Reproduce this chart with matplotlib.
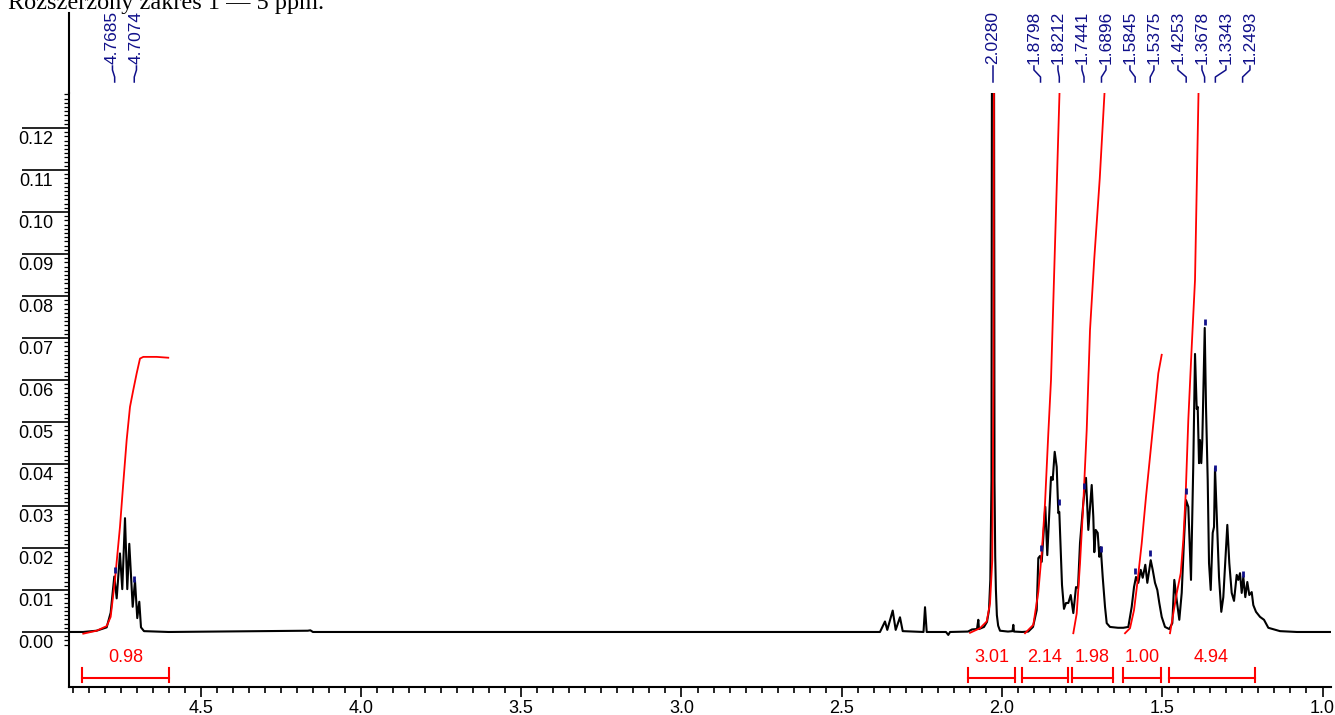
import matplotlib
matplotlib.use('Agg')
import matplotlib.pyplot as plt
import matplotlib.transforms as mtransforms
from matplotlib.ticker import FixedLocator, FormatStrFormatter
import numpy as np

# Widmo 1H: przesunięcie [ppm] i intensywność
spec_ppm = [4.911, 4.867, 4.825, 4.7935, 4.781, 4.7697, 4.7622, 4.752, 4.7448, 4.7363,
            4.7292, 4.7229, 4.7123, 4.7051, 4.698, 4.6917, 4.6864, 4.677, 4.60, 4.166,
            4.158, 4.150, 2.3807, 2.3651, 2.3579, 2.3410, 2.3317, 2.3183, 2.3098, 2.2449,
            2.2402, 2.2349, 2.1747, 2.1676, 2.1622, 2.1061, 2.0936, 2.0780, 2.0739, 2.0718,
            2.0562, 2.0468, 2.0406, 2.0365, 2.0328, 2.0281, 2.0234, 2.0212, 2.0190, 2.0160,
            2.0120, 2.0062, 1.9813, 1.9672, 1.9647, 1.9626, 1.9376, 1.9179, 1.9033, 1.8917,
            1.8867, 1.8814, 1.8761, 1.8649, 1.8587, 1.8471, 1.8418, 1.8356, 1.8293, 1.8243,
            1.8212, 1.8128, 1.8066, 1.8003, 1.7931, 1.7856, 1.7775, 1.7691, 1.7629, 1.7566,
            1.7463, 1.7379, 1.7307, 1.7201, 1.7151, 1.7120, 1.7076, 1.7014, 1.6964, 1.6920,
            1.6858, 1.6786, 1.6733, 1.6630, 1.6381, 1.6215, 1.6059, 1.5953, 1.5881, 1.5819,
            1.5747, 1.5672, 1.5610, 1.5529, 1.5466, 1.5360, 1.5298, 1.5226, 1.5154, 1.5092,
            1.5017, 1.4914, 1.4780, 1.4686, 1.4624, 1.4549, 1.4468, 1.4393, 1.4321, 1.4259,
            1.4187, 1.4103, 1.4031, 1.3978, 1.3925, 1.3894, 1.3853, 1.3822, 1.3782, 1.3750,
            1.3719, 1.3675, 1.3635, 1.3582, 1.3541, 1.3488, 1.3426, 1.3385, 1.3354, 1.3301,
            1.3229, 1.3158, 1.3095, 1.3020, 1.2970, 1.2908, 1.2833, 1.2761, 1.2677, 1.2627,
            1.2574, 1.2521, 1.2471, 1.2409, 1.2346, 1.2284, 1.2209, 1.2159, 1.2075, 1.1950,
            1.1825, 1.1691, 1.1326, 1.0796, 0.9735]
spec_int = [0.0, 0.0, 0.0003, 0.0011, 0.0046, 0.0132, 0.0080, 0.0187, 0.0102, 0.0271,
            0.0102, 0.0210, 0.0060, 0.0122, 0.0033, 0.0072, 0.0011, 0.0002, 0.0, 0.0003,
            0.0004, 0.0, 0.0, 0.0025, 0.0005, 0.0051, 0.0005, 0.0035, 0.0002, 0.0,
            0.0059, 0.0, 0.0, -0.0007, 0.0, 0.0001, 0.0006, 0.0007, 0.0029, 0.0007,
            0.0012, 0.0024, 0.0052, 0.0124, 0.036, 0.36, 0.036, 0.018, 0.0100, 0.0040,
            0.0015, 0.0003, 0.0001, 0.0002, 0.0017, 0.0001, 0.0, 0.0001, 0.0012, 0.0052,
            0.0176, 0.0181, 0.0167, 0.0298, 0.0183, 0.0369, 0.0362, 0.0429, 0.0393, 0.0283,
            0.0286, 0.0112, 0.0055, 0.0069, 0.0069, 0.0088, 0.0045, 0.0107, 0.0105, 0.0212,
            0.0307, 0.0367, 0.0243, 0.0350, 0.0274, 0.0190, 0.0243, 0.0236, 0.0179, 0.0202,
            0.0131, 0.0060, 0.0021, 0.0012, 0.0010, 0.0010, 0.0012, 0.0060, 0.0107, 0.0131,
            0.0117, 0.0148, 0.0129, 0.0160, 0.0117, 0.0171, 0.0148, 0.0117, 0.0100, 0.0069,
            0.0036, 0.0012, 0.0007, 0.0021, 0.0124, 0.0076, 0.0029, 0.0093, 0.0219, 0.0314,
            0.0298, 0.0124, 0.0402, 0.0662, 0.0531, 0.0536, 0.0402, 0.0457, 0.0402, 0.0457,
            0.0569, 0.0724, 0.0536, 0.0362, 0.0164, 0.0100, 0.0236, 0.0250, 0.0390, 0.0283,
            0.0131, 0.0048, 0.0083, 0.0186, 0.0255, 0.0164, 0.0093, 0.0074, 0.0136, 0.0124,
            0.0140, 0.0093, 0.0131, 0.0083, 0.0119, 0.0088, 0.0095, 0.0064, 0.0048, 0.0036,
            0.0029, 0.0010, 0.0002, 0.0, 0.0]
assert len(spec_ppm) == len(spec_int)

# Krzywe całkowania (czerwone)
int1_ppm = [4.8665, 4.8247, 4.7935, 4.7810, 4.7676, 4.7520, 4.7417, 4.7311, 4.7207, 4.7105,
            4.6998, 4.6895, 4.6792, 4.6374, 4.6013]
int1_val = [-0.0004, 0.0003, 0.0014, 0.0036, 0.0124, 0.0250, 0.0354, 0.0457, 0.0536, 0.0576,
            0.0616, 0.0651, 0.0655, 0.0655, 0.0653]
int2_ppm = [2.0998, 2.0686, 2.0477, 2.0374, 2.0303, 2.0265, 2.0240]
int2_val = [-0.0002, 0.0009, 0.0025, 0.0068, 0.0171, 0.0600, 0.2000]
int3_ppm = [1.9282, 1.9023, 1.8867, 1.8761, 1.8658, 1.8555, 1.8471, 1.8206, 1.8175]
int3_val = [-0.0003, 0.0017, 0.0095, 0.0187, 0.0306, 0.0473, 0.0600, 0.1283, 0.1430]
int4_ppm = [1.7775, 1.7669, 1.7566, 1.7463, 1.7357, 1.7254, 1.7120, 1.6950, 1.6802, 1.6724]
int4_val = [-0.0003, 0.0044, 0.0163, 0.0307, 0.0481, 0.0719, 0.0890, 0.1080, 0.1283, 0.1320]
int5_ppm = [1.6162, 1.6006, 1.5881, 1.5778, 1.5641, 1.5507, 1.5382, 1.5226, 1.5123, 1.5017]
int5_val = [-0.0003, 0.0009, 0.0052, 0.0116, 0.0211, 0.0322, 0.0417, 0.0536, 0.0616, 0.0660]
int6_ppm = [1.4758, 1.4655, 1.4549, 1.4424, 1.4343, 1.4268, 1.4187, 1.4081, 1.3978, 1.3869, 1.3850]
int6_val = [-0.0003, 0.0044, 0.0092, 0.0140, 0.0219, 0.0330, 0.0505, 0.0679, 0.0838, 0.1283, 0.1400]

# Zakresy całek i ich wartości
int_start = [4.869, 2.106, 1.938, 1.782, 1.623, 1.480]
int_end = [4.598, 1.960, 1.794, 1.654, 1.505, 1.212]
int_labels = ['0.98', '3.01', '2.14', '1.98', '1.00', '4.94']

# Pozycje opisanych pików
peak_ppm = [4.7685, 4.7074, 2.0280, 1.8798, 1.8212, 1.7441, 1.6896,
            1.5845, 1.5375, 1.4253, 1.3678, 1.3343, 1.2493]

# Osie
x_major = [4.5, 4.0, 3.5, 3.0, 2.5, 2.0, 1.5, 1.0]
y_major = [0.00, 0.01, 0.02, 0.03, 0.04, 0.05, 0.06, 0.07, 0.08, 0.09, 0.10, 0.11, 0.12]
y_labels = ['0.00', '0.01', '0.02', '0.03', '0.04', '0.05', '0.06', '0.07', '0.08',
            '0.09', '0.10', '0.11', '0.12']

NAVY = '#10108a'
plt.rcParams['font.family'] = ['Liberation Sans', 'DejaVu Sans']

fig = plt.figure(figsize=(13.35, 7.15), dpi=100)
ax = fig.add_axes([69 / 1335, 28 / 715, 1262 / 1335, 594 / 715])

ax.plot(spec_ppm, spec_int, color='black', lw=1.5)
for p, v in [(int1_ppm, int1_val), (int2_ppm, int2_val), (int3_ppm, int3_val),
             (int4_ppm, int4_val), (int5_ppm, int5_val), (int6_ppm, int6_val)]:
    ax.plot(p, v, color='red', lw=1.3)

ax.set_xlim(4.911, 0.9735)
ax.set_ylim(-0.0131, 0.12833)

for s in ['top', 'right']:
    ax.spines[s].set_visible(False)
for s in ['left', 'bottom']:
    ax.spines[s].set_linewidth(1.5)

# os X
ax.xaxis.set_major_locator(FixedLocator(x_major))
ax.xaxis.set_minor_locator(FixedLocator(np.round(np.arange(1.0, 4.91, 0.05), 2)))
ax.xaxis.set_major_formatter(FormatStrFormatter('%.1f'))
ax.tick_params(axis='x', which='major', length=7.5, width=1.2, labelsize=13, pad=2)
ax.tick_params(axis='x', which='minor', length=4.5, width=1.2)

# os Y: dlugie kreski nad etykietami
ax.yaxis.set_major_locator(FixedLocator(y_major))
ax.yaxis.set_minor_locator(FixedLocator(np.arange(-3, 129) / 1000))
ax.tick_params(axis='y', which='major', length=34, width=1.2, labelleft=False)
ax.tick_params(axis='y', which='minor', length=3.5, width=0.9)
ytr = mtransforms.offset_copy(ax.get_yaxis_transform(), fig=fig, y=-3, units='dots')
for v, lab in zip(y_major, y_labels):
    ax.text(-0.0262, v, lab, transform=ytr, ha='center', va='top', fontsize=13)

# przedluzenie osi Y ponad obszar danych
def ay(px):
    return 1 + (93 - px) / 594

ax.plot([0, 0], [1, ay(13)], transform=ax.transAxes, color='black', lw=1.5, clip_on=False)


# rozsuniecie etykiet pikow
def spread(pos, gap):
    clusters = []
    for p in pos:
        clusters.append([p])
        while len(clusters) > 1:
            a, b = clusters[-2], clusters[-1]
            end_a = np.mean(a) - (len(a) - 1) / 2 * gap
            start_b = np.mean(b) + (len(b) - 1) / 2 * gap
            if end_a - start_b < gap:
                clusters[-2:] = [a + b]
            else:
                break
    out = []
    for c in clusters:
        m = np.mean(c)
        out += [m + ((len(c) - 1) / 2 - i) * gap for i in range(len(c))]
    return out


gap = 24 * (4.911 - 0.9735) / 1262
label_pos = spread(peak_ppm, gap)
tr = mtransforms.blended_transform_factory(ax.transData, ax.transAxes)
for pk, lp in zip(peak_ppm, label_pos):
    ax.text(lp, ay(64), f'{pk:.4f}', rotation=90, ha='center', va='bottom',
            transform=tr, color=NAVY, fontsize=12.5, clip_on=False)
    ax.plot([lp, lp, pk, pk], [ay(66), ay(70), ay(77), ay(82)], transform=tr,
            color=NAVY, lw=1.1, clip_on=False)

# znaczniki nad pikami
pk_h = np.interp(peak_ppm, spec_ppm[::-1], spec_int[::-1])
mtr = mtransforms.offset_copy(ax.transData, fig=fig, y=10, units='dots')
ax.plot(peak_ppm, pk_h, linestyle='none', marker='|', ms=5, mew=2, color=NAVY, transform=mtr)

# zakresy calkowania
def by(px):
    return (687 - px) / 594

trx = ax.get_xaxis_transform()
for a, b, lab in zip(int_start, int_end, int_labels):
    ax.plot([a, b], [by(678), by(678)], color='red', lw=1.5, transform=trx, clip_on=False)
    ax.plot([a, a], [by(668), by(682)], color='red', lw=1.5, transform=trx, clip_on=False)
    ax.plot([b, b], [by(668), by(682)], color='red', lw=1.5, transform=trx, clip_on=False)
    ax.text((a + b) / 2, by(658), lab, ha='center', va='center', color='red',
            fontsize=13, transform=trx)

fig.text(8 / 1335, 1 - 9.3 / 715, 'Rozszerzony zakres 1 — 5 ppm.',
         family=['Liberation Serif', 'DejaVu Serif'], fontsize=17.5, ha='left', va='baseline')

fig.savefig('out.png', dpi=100)
